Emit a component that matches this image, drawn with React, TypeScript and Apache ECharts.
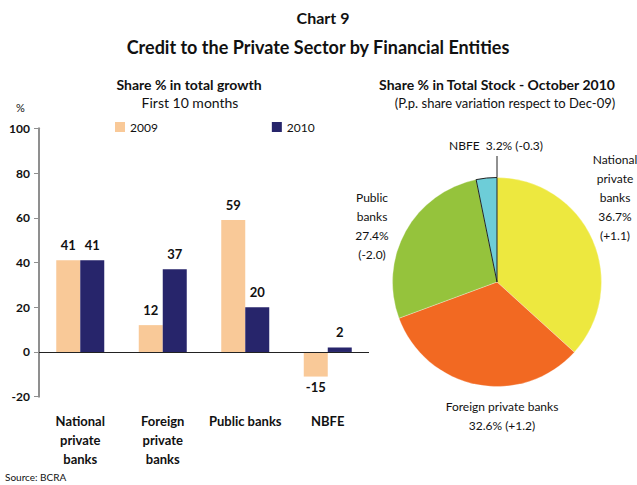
import React, { useEffect, useRef } from "react";
import * as echarts from "echarts";

const categories = ["National\nprivate\nbanks", "Foreign\nprivate\nbanks", "Public banks", "NBFE"];
const values2009 = [41, 12, 59, -11];
const labels2009 = ["41", "12", "59", "-15"];
const values2010 = [41, 37, 20, 2];
const labels2010 = ["41", "37", "20", "2"];

const pieNames = ["National\nprivate\nbanks", "Foreign private banks", "Public\nbanks", "NBFE"];
const pieShares = [36.7, 32.6, 27.4, 3.2];
const pieChanges = [1.1, 1.2, -2.0, -0.3];
const pieSeparators = ["\n", "\n", "\n", "  "];
const pieJoin = ["\n", " ", "\n", " "];

const pieColors = ["#EDE83F", "#F26922", "#95C33C", "#6DCDD8"];
const pieLabelPos: [number, number][] = [
  [615, 197],
  [502, 416],
  [372, 226],
  [496, 145],
];

const FONT = "Lato";

const titleStyle = (size: number, bold: boolean) => ({
  fontSize: size,
  fontWeight: bold ? "bold" : "normal",
  fontFamily: FONT,
  color: "#111",
});

export default function App() {
  const ref = useRef<HTMLDivElement>(null);
  useEffect(() => {
    if (!ref.current) return;
    const chart = echarts.init(ref.current, null, { renderer: "svg" });
    const fmtChange = (v: number) => (v > 0 ? "+" : "") + v.toFixed(1);
    const option: any = {
      animation: false,
      backgroundColor: "#ffffff",
      textStyle: { fontFamily: FONT, color: "#111" },
      title: [
        { text: "Chart 9", left: 323, textAlign: "center", top: 9, padding: 0, textStyle: titleStyle(16, true) },
        { text: "Credit to the Private Sector by Financial Entities", left: 318, textAlign: "center", top: 38, padding: 0, textStyle: titleStyle(18, true) },
        { text: "Share % in total growth", left: 189, textAlign: "center", top: 77, padding: 0, textStyle: titleStyle(14, true) },
        { text: "First 10 months", left: 190, textAlign: "center", top: 95, padding: 0, textStyle: titleStyle(14, false) },
        { text: "Share % in Total Stock - October 2010", left: 497, textAlign: "center", top: 77, padding: 0, textStyle: titleStyle(14, true) },
        { text: "(P.p. share variation respect to Dec-09)", left: 505, textAlign: "center", top: 96, padding: 0, textStyle: titleStyle(13, false) },
        { text: "Source: BCRA", left: 5, top: 472, padding: 0, textStyle: titleStyle(10, false) },
        { text: "%", left: 16, top: 102, padding: 0, textStyle: titleStyle(11, false) },
      ],
      legend: {
        left: 110,
        top: 116,
        itemWidth: 10,
        itemHeight: 10,
        itemGap: 114,
        icon: "rect",
        textStyle: { fontSize: 12, fontFamily: FONT, color: "#111" },
        data: ["2009", "2010"],
      },
      grid: { left: 39, right: 268, top: 128.3, bottom: 88.3, containLabel: false },
      xAxis: {
        type: "category",
        data: categories,
        axisLine: { show: false, onZero: false },
        axisTick: { show: false },
        axisLabel: {
          interval: 0,
          margin: 15,
          fontSize: 13,
          fontWeight: "bold",
          lineHeight: 19,
          color: "#111",
          fontFamily: FONT,
          verticalAlign: "top",
        },
      },
      yAxis: {
        type: "value",
        min: -20,
        max: 100,
        interval: 20,
        axisLine: { show: true, lineStyle: { color: "#8f8f8f", width: 2 } },
        axisTick: { show: true, length: 5, lineStyle: { color: "#8f8f8f", width: 1 } },
        splitLine: { show: false },
        axisLabel: { fontSize: 12, fontWeight: "bold", color: "#111", margin: 9, fontFamily: FONT },
      },
      series: [
        {
          name: "2009",
          type: "bar",
          barWidth: 24,
          barGap: "0%",
          itemStyle: { color: "#F9C998" },
          data: values2009.map((v, i) => ({
            value: v,
            label: {
              show: true,
              position: v < 0 ? "bottom" : "top",
              distance: v < 0 ? 4 : 9,
              formatter: () => labels2009[i],
              fontSize: 13,
              fontWeight: "bold",
              color: "#111",
              fontFamily: FONT,
            },
          })),
          markLine: {
            silent: true,
            symbol: "none",
            label: { show: false },
            lineStyle: { color: "#222", width: 1, type: "solid" },
            data: [{ yAxis: 0 }],
          },
        },
        {
          name: "2010",
          type: "bar",
          barWidth: 24,
          barGap: "0%",
          itemStyle: { color: "#27256B" },
          data: values2010.map((v, i) => ({
            value: v,
            label: {
              show: true,
              position: v < 0 ? "bottom" : "top",
              distance: v < 0 ? 4 : 9,
              formatter: () => labels2010[i],
              fontSize: 13,
              fontWeight: "bold",
              color: "#111",
              fontFamily: FONT,
            },
          })),
        },
        {
          type: "pie",
          center: [497, 282],
          radius: 104.5,
          startAngle: 90,
          clockwise: true,
          avoidLabelOverlap: false,
          data: pieShares.map((s, i) => ({
            value: s,
            name: pieNames[i],
            itemStyle: i === 3
              ? { color: pieColors[i], borderColor: "#222", borderWidth: 1 }
              : { color: pieColors[i], borderColor: "#ffffff", borderWidth: 0.3 },
          })),
          label: {
            show: true,
            position: "outside",
            overflow: "none",
            bleedMargin: 0,
            fontSize: 12,
            lineHeight: 19,
            color: "#111",
            fontFamily: FONT,
            align: "center",
            formatter: (p: any) => {
              const i = p.dataIndex;
              return pieNames[i] + pieSeparators[i] + pieShares[i].toFixed(1) + "%" + pieJoin[i] + "(" + fmtChange(pieChanges[i]) + ")";
            },
          },
          labelLine: { show: false },
          labelLayout: (p: any) => {
            const pos = pieLabelPos[p.dataIndex];
            return { x: pos[0], y: pos[1], align: "center", verticalAlign: "middle" };
          },
        },
      ],
      graphic: [
        {
          type: "line",
          shape: { x1: 497, y1: 156, x2: 497, y2: 178 },
          style: { stroke: "#222", lineWidth: 1 },
          silent: true,
        },
      ],
    };
    chart.setOption(option);
    return () => chart.dispose();
  }, []);
  return (
    <div
      ref={ref}
      style={{ width: 637, height: 485, position: "absolute", left: 0, top: 0 }}
    />
  );
}
